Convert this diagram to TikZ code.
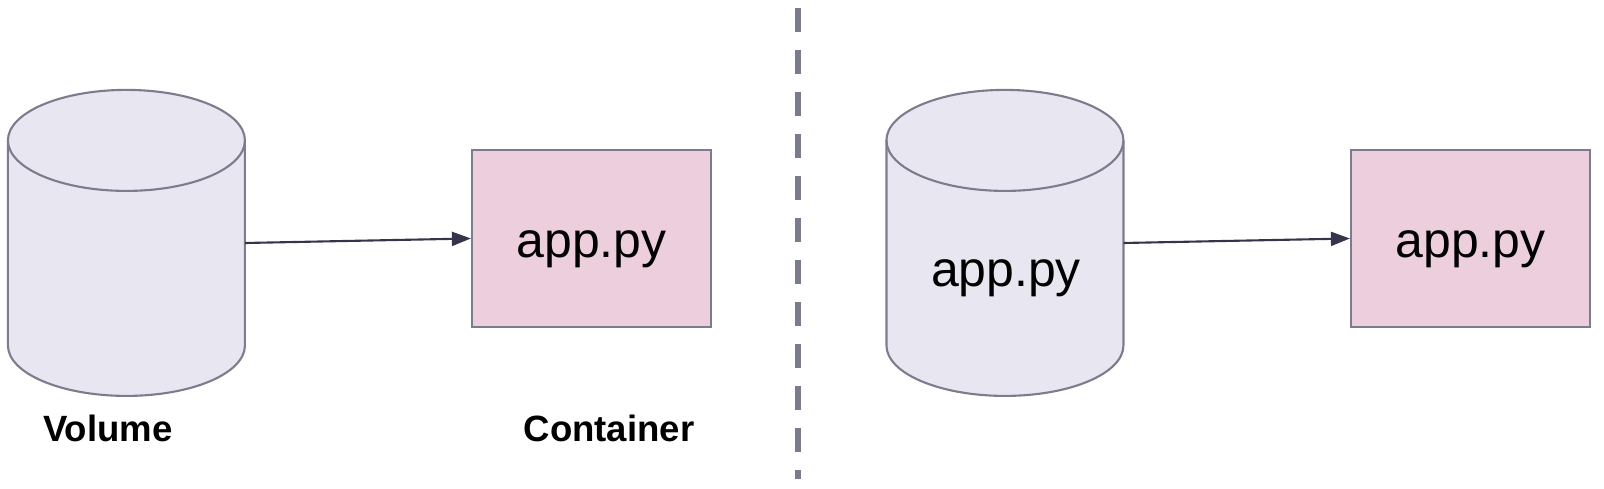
\documentclass[tikz,border=0pt]{standalone}
\usepackage{fontspec}
\setmainfont{Liberation Sans}
\usetikzlibrary{arrows.meta}
\definecolor{cylbg}{HTML}{E8E7F1}
\definecolor{boxbg}{HTML}{EDCEDC}
\definecolor{edge}{HTML}{7C7C8E}
\definecolor{arrowc}{HTML}{34344A}
\definecolor{dashc}{HTML}{7A7C8E}
\begin{document}
\begin{tikzpicture}[x=0.01cm,y=0.01cm,
    vol/.style={rectangle,inner sep=0pt,outer sep=0pt,minimum width=2.37cm,minimum height=3.06cm},
    cont/.style={rectangle,draw=edge,fill=boxbg,line width=0.6pt,inner sep=0pt,minimum width=2.39cm,minimum height=1.77cm,text height=0.37cm,text depth=0pt,font=\fontsize{14.2}{17}\selectfont},
    cyl/.style={draw=edge,fill=cylbg,line width=0.6pt},
    lbl/.style={font=\fontsize{10.4}{12}\selectfont\bfseries},
    link/.style={draw=arrowc,line width=0.6pt,-{Triangle[length=1.9mm,width=1.4mm]}}]
  \useasboundingbox (0,0) rectangle (1604,488);
  % left: volume and container
  \node[vol] (volL) at (126.5,245) {};
  \draw[cyl] (volL.north west) ++(0,-50.5) -- ++(0,-205) arc[start angle=180,end angle=360,x radius=118.5,y radius=50.5] -- ++(0,205) arc[start angle=0,end angle=180,x radius=118.5,y radius=50.5] -- cycle;
  \draw[cyl,fill=none] (volL.north west) ++(0,-50.5) arc[start angle=180,end angle=360,x radius=118.5,y radius=50.5];
  \node[cont] (contL) at (591.5,249.5) {app.py};
  \draw[link] (volL.east) -- (contL.west);
  \node[lbl] (volLbl) at (108,60) {Volume};
  \node[lbl] (contLbl) at (609,60) {Container};
  % divider
  \coordinate (divTop) at (798,480);
  \coordinate (divBot) at (798,9);
  \draw[dashc,line width=0.06cm,dash pattern=on 0.24cm off 0.18cm] (divTop) -- (divBot);
  % right: file inside the volume
  \node[vol] (volR) at (1005,245) {};
  \draw[cyl] (volR.north west) ++(0,-50.5) -- ++(0,-205) arc[start angle=180,end angle=360,x radius=118.5,y radius=50.5] -- ++(0,205) arc[start angle=0,end angle=180,x radius=118.5,y radius=50.5] -- cycle;
  \draw[cyl,fill=none] (volR.north west) ++(0,-50.5) arc[start angle=180,end angle=360,x radius=118.5,y radius=50.5];
  \node[anchor=base,font=\fontsize{14.2}{17}\selectfont] (volRtxt) at (1006,201) {app.py};
  \node[cont] (contR) at (1470.5,249.5) {app.py};
  \draw[link] (volR.east) -- (contR.west);
\end{tikzpicture}
\end{document}
